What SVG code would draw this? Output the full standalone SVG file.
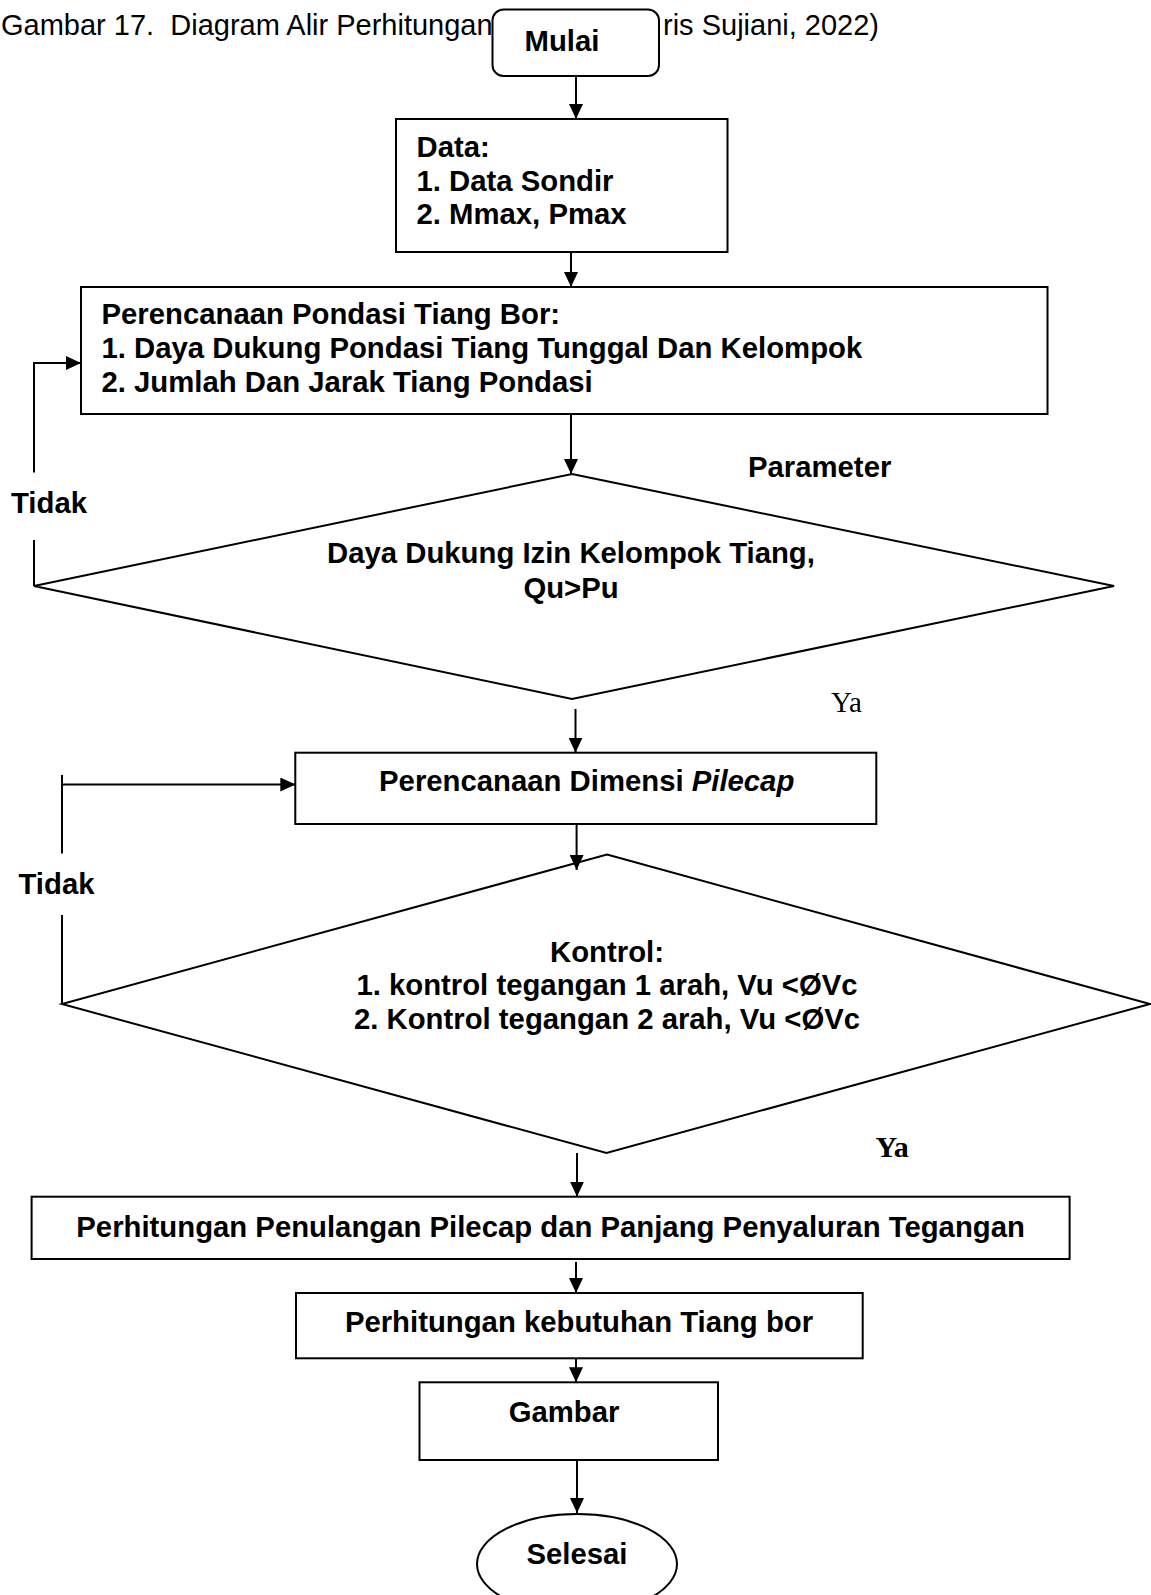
<svg xmlns="http://www.w3.org/2000/svg" width="1151" height="1595" viewBox="0 0 1151 1595">
<style>
.shape{fill:#fff;stroke:#000;stroke-width:2}
.t{font-family:"Liberation Sans",Arial,sans-serif;font-size:29.3px;font-weight:bold;fill:#000;white-space:pre}
.title{font-family:"Liberation Sans",Arial,sans-serif;font-size:29px;fill:#000;white-space:pre}
.ser{font-family:"Liberation Serif","Times New Roman",serif;fill:#000}
.c{text-anchor:middle}
.ln{fill:none;stroke:#000;stroke-width:2}
</style>
<defs>
<marker id="ah" markerUnits="userSpaceOnUse" viewBox="0 0 15 14" refX="15" refY="7" markerWidth="15" markerHeight="14" orient="auto">
<path d="M0,0 L15,7 L0,14 z" fill="#000"/>
</marker>
</defs>
<rect width="1151" height="1595" fill="#fff"/>
<g id="caption">
<text class="title" x="1" y="35">Gambar 17.  Diagram Alir Perhitungan</text>
<text class="title" x="663" y="35">ris Sujiani, 2022)</text>
</g>
<g id="start">
<rect class="shape" x="492.5" y="9.5" width="166.5" height="66.5" rx="11"/>
<text class="t c" x="562" y="50.5">Mulai</text>
</g>
<g id="data">
<rect class="shape" x="396" y="119" width="331.5" height="133"/>
<text class="t" x="416.5" y="157">Data:</text>
<text class="t" x="416.5" y="190.5">1. Data Sondir</text>
<text class="t" x="416.5" y="224">2. Mmax, Pmax</text>
</g>
<g id="pondasi">
<rect class="shape" x="81" y="287" width="966.5" height="127"/>
<text class="t" x="101.5" y="324">Perencanaan Pondasi Tiang Bor:</text>
<text class="t" x="101.5" y="358">1. Daya Dukung Pondasi Tiang Tunggal Dan Kelompok</text>
<text class="t" x="101.5" y="391.5">2. Jumlah Dan Jarak Tiang Pondasi</text>
</g>
<g id="cek1">
<polygon class="shape" points="572,474 1114,586 572,699 34,586"/>
<text class="t c" x="571" y="563">Daya Dukung Izin Kelompok Tiang,</text>
<text class="t c" x="571" y="597.5">Qu&gt;Pu</text>
</g>
<g id="pilecap">
<rect class="shape" x="295.3" y="752.7" width="581" height="71.3"/>
<text class="t c" x="586.7" y="791">Perencanaan Dimensi <tspan font-style="italic">Pilecap</tspan></text>
</g>
<g id="cek2">
<polygon class="shape" points="607,854.5 1150,1004 606.5,1153 62,1004"/>
<text class="t c" x="607" y="961.5">Kontrol:</text>
<text class="t c" x="607" y="995">1. kontrol tegangan 1 arah, Vu &lt;ØVc</text>
<text class="t c" x="607" y="1028.5">2. Kontrol tegangan 2 arah, Vu &lt;ØVc</text>
</g>
<g id="penulangan">
<rect class="shape" x="31.6" y="1196.7" width="1038" height="62.3"/>
<text class="t c" x="550.6" y="1236.5">Perhitungan Penulangan Pilecap dan Panjang Penyaluran Tegangan</text>
</g>
<g id="kebutuhan">
<rect class="shape" x="296" y="1293" width="566.7" height="65.3"/>
<text class="t c" x="579" y="1332">Perhitungan kebutuhan Tiang bor</text>
</g>
<g id="gambar">
<rect class="shape" x="419.5" y="1382.3" width="298.5" height="77.7"/>
<text class="t c" x="564" y="1421.7">Gambar</text>
</g>
<g id="end">
<ellipse class="shape" cx="577" cy="1564" rx="100" ry="50"/>
<text class="t c" x="577" y="1563.5">Selesai</text>
</g>
<g id="labels">
<text class="t" x="748" y="477">Parameter</text>
<text class="t" x="11" y="513">Tidak</text>
<text class="t" x="18.5" y="894">Tidak</text>
<text class="ser" x="831" y="711.5" font-size="29">Ya</text>
<text class="ser" x="875.4" y="1156.7" font-size="30" font-weight="bold">Ya</text>
</g>
<g id="connectors">
<line class="ln" x1="576" y1="76" x2="576" y2="119" marker-end="url(#ah)"/>
<line class="ln" x1="571" y1="252" x2="571" y2="287" marker-end="url(#ah)"/>
<line class="ln" x1="571" y1="414" x2="571" y2="474" marker-end="url(#ah)"/>
<polyline class="ln" points="34,586 34,540"/>
<polyline class="ln" points="34,472.5 34,363 81,363" marker-end="url(#ah)"/>
<line class="ln" x1="575.5" y1="709" x2="575.5" y2="752.7" marker-end="url(#ah)"/>
<polyline class="ln" points="62,1004 62,915"/>
<polyline class="ln" points="62,853.5 62,775"/>
<line class="ln" x1="62" y1="784.5" x2="295.3" y2="784.5" marker-end="url(#ah)"/>
<line class="ln" x1="576.6" y1="824" x2="576.6" y2="870" marker-end="url(#ah)"/>
<line class="ln" x1="577" y1="1153" x2="577" y2="1196.7" marker-end="url(#ah)"/>
<line class="ln" x1="576" y1="1262" x2="576" y2="1293" marker-end="url(#ah)"/>
<line class="ln" x1="576" y1="1358.3" x2="576" y2="1382.3" marker-end="url(#ah)"/>
<line class="ln" x1="577" y1="1460" x2="577" y2="1513" marker-end="url(#ah)"/>
</g>
</svg>
